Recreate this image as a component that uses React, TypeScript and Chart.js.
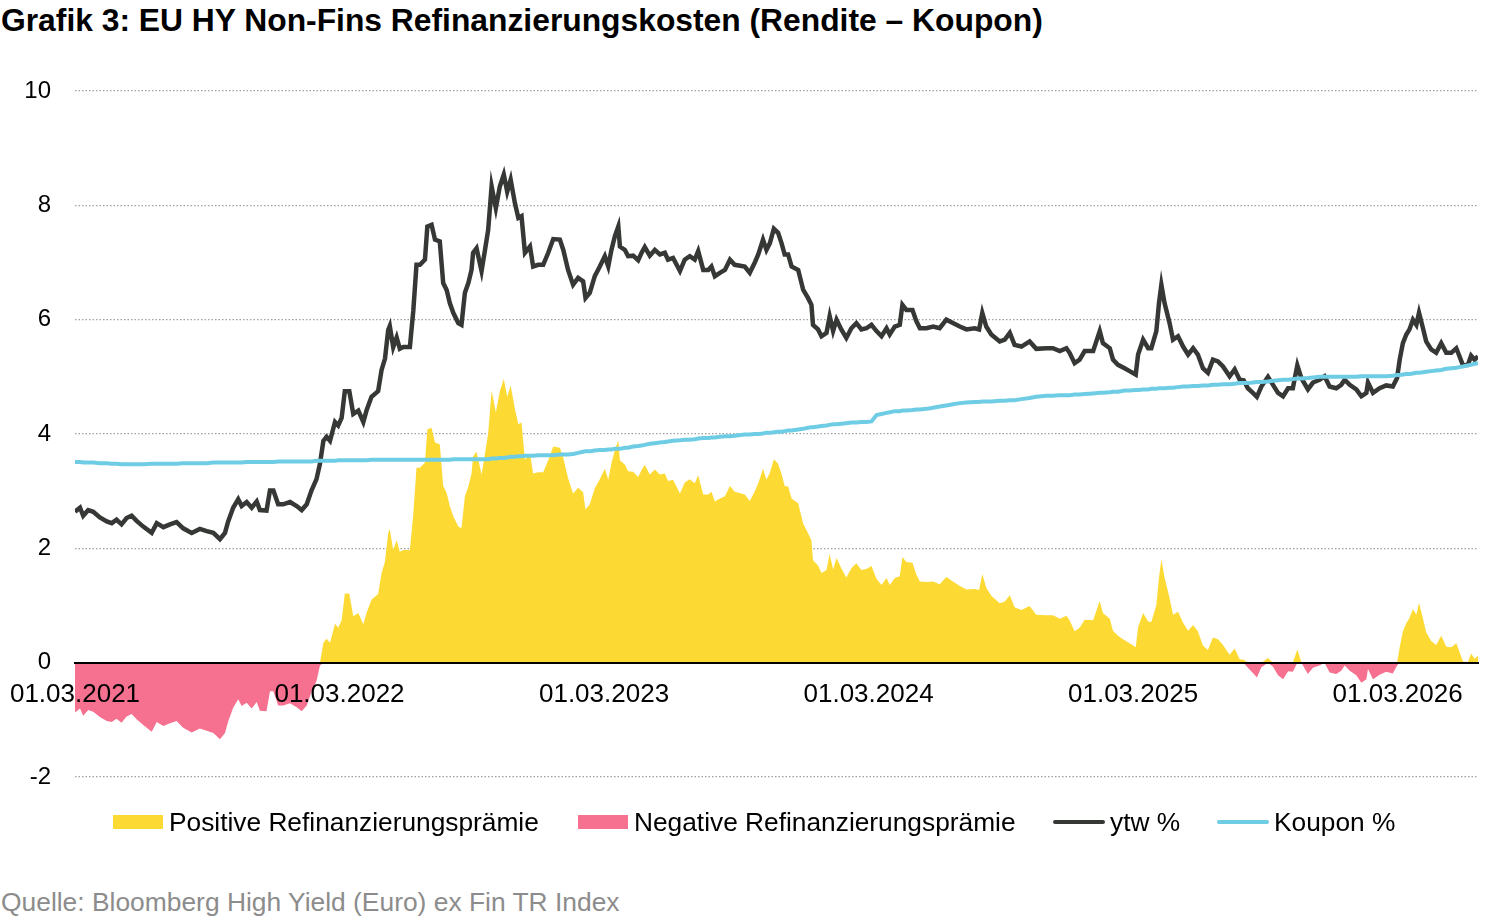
import React, { useEffect, useRef } from 'react';
import Chart from 'chart.js/auto';

// time in years since 01.03.2021
const dates = [
  0.000, 0.019, 0.031, 0.050, 0.069, 0.094, 0.120, 0.139, 0.157, 0.176,
  0.195, 0.214, 0.233, 0.258, 0.290, 0.309, 0.334, 0.359, 0.384, 0.409,
  0.441, 0.472, 0.498, 0.523, 0.548, 0.567, 0.579, 0.598, 0.617, 0.630,
  0.649, 0.668, 0.687, 0.699, 0.724, 0.737, 0.750, 0.768, 0.787, 0.813,
  0.838, 0.857, 0.876, 0.894, 0.913, 0.926, 0.939, 0.951, 0.964, 0.983,
  0.995, 1.008, 1.020, 1.037, 1.052, 1.071, 1.090, 1.102, 1.121, 1.146,
  1.159, 1.172, 1.184, 1.190, 1.203, 1.216, 1.228, 1.241, 1.266, 1.279,
  1.291, 1.304, 1.323, 1.332, 1.348, 1.361, 1.379, 1.392, 1.405, 1.417,
  1.430, 1.449, 1.461, 1.474, 1.487, 1.499, 1.505, 1.518, 1.537, 1.550,
  1.562, 1.575, 1.591, 1.606, 1.621, 1.634, 1.647, 1.663, 1.676, 1.688,
  1.701, 1.720, 1.732, 1.751, 1.770, 1.789, 1.808, 1.833, 1.846, 1.864,
  1.883, 1.902, 1.921, 1.930, 1.946, 1.965, 1.984, 2.003, 2.016, 2.028,
  2.041, 2.054, 2.060, 2.079, 2.091, 2.110, 2.129, 2.142, 2.154, 2.173,
  2.192, 2.211, 2.230, 2.242, 2.261, 2.287, 2.305, 2.324, 2.343, 2.356,
  2.375, 2.394, 2.406, 2.419, 2.438, 2.457, 2.476, 2.494, 2.532, 2.551,
  2.570, 2.583, 2.601, 2.614, 2.627, 2.642, 2.658, 2.671, 2.683, 2.696,
  2.709, 2.734, 2.753, 2.771, 2.784, 2.790, 2.809, 2.822, 2.841, 2.853,
  2.866, 2.879, 2.897, 2.916, 2.935, 2.954, 2.973, 2.992, 3.011, 3.030,
  3.049, 3.068, 3.080, 3.099, 3.118, 3.128, 3.143, 3.166, 3.181, 3.194,
  3.219, 3.244, 3.269, 3.294, 3.319, 3.345, 3.370, 3.401, 3.418, 3.430,
  3.445, 3.464, 3.496, 3.515, 3.534, 3.552, 3.578, 3.609, 3.634, 3.672,
  3.697, 3.723, 3.748, 3.760, 3.779, 3.798, 3.817, 3.849, 3.874, 3.886,
  3.912, 3.924, 3.943, 3.968, 3.987, 4.010, 4.019, 4.038, 4.057, 4.069,
  4.088, 4.098, 4.107, 4.119, 4.138, 4.151, 4.170, 4.189, 4.208, 4.227,
  4.245, 4.264, 4.283, 4.302, 4.321, 4.340, 4.365, 4.384, 4.403, 4.418,
  4.434, 4.453, 4.468, 4.485, 4.510, 4.529, 4.548, 4.567, 4.586, 4.604,
  4.621, 4.636, 4.661, 4.680, 4.705, 4.724, 4.743, 4.768, 4.787, 4.800,
  4.819, 4.844, 4.863, 4.882, 4.888, 4.907, 4.932, 4.957, 4.982, 4.998,
  5.008, 5.020, 5.033, 5.045, 5.058, 5.071, 5.081, 5.096, 5.108, 5.127,
  5.146, 5.165, 5.184, 5.203, 5.222, 5.234, 5.247, 5.266, 5.278, 5.291,
  5.304,
];

const ytw = [
  2.64, 2.71, 2.57, 2.67, 2.64, 2.54, 2.47, 2.44, 2.50, 2.42,
  2.53, 2.57, 2.48, 2.38, 2.27, 2.44, 2.37, 2.42, 2.46, 2.35,
  2.27, 2.34, 2.30, 2.27, 2.16, 2.27, 2.47, 2.71, 2.86, 2.74,
  2.81, 2.71, 2.82, 2.67, 2.66, 3.01, 3.01, 2.77, 2.77, 2.81,
  2.74, 2.67, 2.77, 3.01, 3.21, 3.48, 3.88, 3.95, 3.88, 4.21,
  4.15, 4.28, 4.75, 4.75, 4.35, 4.41, 4.21, 4.41, 4.65, 4.75,
  5.12, 5.32, 5.82, 5.89, 5.52, 5.69, 5.49, 5.52, 5.52, 6.16,
  6.96, 6.96, 7.05, 7.63, 7.66, 7.40, 7.37, 6.64, 6.52, 6.29,
  6.12, 5.94, 5.91, 6.47, 6.64, 6.87, 7.17, 7.25, 6.85, 7.22,
  7.57, 8.33, 7.95, 8.33, 8.54, 8.24, 8.45, 8.04, 7.78, 7.81,
  7.17, 7.28, 6.93, 6.96, 6.96, 7.17, 7.41, 7.40, 7.22, 6.87,
  6.61, 6.73, 6.67, 6.38, 6.47, 6.76, 6.93, 7.11, 6.93, 7.22,
  7.46, 7.63, 7.28, 7.22, 7.11, 7.12, 7.04, 7.17, 7.27, 7.12,
  7.22, 7.14, 7.17, 7.05, 7.08, 6.85, 7.05, 7.11, 7.05, 7.20,
  6.87, 6.87, 6.93, 6.76, 6.82, 6.87, 7.05, 6.96, 6.93, 6.82,
  7.00, 7.14, 7.40, 7.22, 7.34, 7.59, 7.52, 7.34, 7.14, 7.14,
  6.93, 6.87, 6.52, 6.38, 6.26, 5.91, 5.83, 5.71, 5.77, 6.06,
  5.80, 6.00, 5.83, 5.68, 5.85, 5.94, 5.83, 5.85, 5.91, 5.80,
  5.71, 5.85, 5.74, 5.88, 5.91, 6.26, 6.17, 6.17, 5.97, 5.85,
  5.85, 5.88, 5.85, 6.00, 5.94, 5.88, 5.83, 5.85, 5.83, 6.12,
  5.88, 5.74, 5.62, 5.65, 5.77, 5.56, 5.53, 5.62, 5.49, 5.50,
  5.50, 5.45, 5.50, 5.42, 5.24, 5.30, 5.45, 5.45, 5.80, 5.59,
  5.50, 5.30, 5.21, 5.15, 5.10, 5.04, 5.39, 5.65, 5.50, 5.50,
  5.80, 6.29, 6.61, 6.29, 5.94, 5.65, 5.71, 5.53, 5.39, 5.50,
  5.39, 5.15, 5.07, 5.30, 5.27, 5.18, 5.01, 5.13, 4.95, 4.94,
  4.80, 4.72, 4.65, 4.83, 5.00, 4.86, 4.72, 4.66, 4.80, 4.80,
  5.20, 4.98, 4.78, 4.90, 4.95, 5.01, 4.83, 4.80, 4.86, 4.95,
  4.86, 4.78, 4.66, 4.72, 4.90, 4.72, 4.80, 4.85, 4.83, 4.98,
  5.30, 5.59, 5.74, 5.83, 6.00, 5.91, 6.12, 5.85, 5.62, 5.48,
  5.42, 5.59, 5.42, 5.42, 5.50, 5.36, 5.20, 5.21, 5.37, 5.30,
  5.36,
];

const coupon = [
  3.51, 3.51, 3.50, 3.50, 3.50, 3.49, 3.49, 3.48, 3.48, 3.47,
  3.47, 3.47, 3.47, 3.47, 3.48, 3.48, 3.48, 3.48, 3.48, 3.49,
  3.49, 3.49, 3.49, 3.50, 3.50, 3.50, 3.50, 3.50, 3.50, 3.50,
  3.51, 3.51, 3.51, 3.51, 3.51, 3.51, 3.51, 3.52, 3.52, 3.52,
  3.52, 3.52, 3.52, 3.52, 3.53, 3.53, 3.53, 3.53, 3.53, 3.53,
  3.54, 3.54, 3.54, 3.54, 3.54, 3.54, 3.54, 3.54, 3.55, 3.55,
  3.55, 3.55, 3.55, 3.55, 3.55, 3.55, 3.55, 3.55, 3.55, 3.55,
  3.55, 3.55, 3.55, 3.55, 3.55, 3.55, 3.55, 3.55, 3.55, 3.55,
  3.56, 3.56, 3.56, 3.56, 3.56, 3.56, 3.56, 3.56, 3.56, 3.56,
  3.56, 3.57, 3.57, 3.58, 3.58, 3.59, 3.60, 3.60, 3.61, 3.61,
  3.62, 3.62, 3.62, 3.63, 3.63, 3.63, 3.63, 3.64, 3.64, 3.64,
  3.65, 3.67, 3.69, 3.70, 3.70, 3.71, 3.72, 3.72, 3.73, 3.73,
  3.74, 3.74, 3.74, 3.76, 3.76, 3.78, 3.79, 3.80, 3.81, 3.83,
  3.84, 3.85, 3.86, 3.87, 3.88, 3.89, 3.90, 3.90, 3.91, 3.92,
  3.93, 3.93, 3.94, 3.94, 3.95, 3.96, 3.96, 3.97, 3.99, 3.99,
  4.00, 4.00, 4.01, 4.02, 4.02, 4.03, 4.04, 4.04, 4.05, 4.06,
  4.06, 4.08, 4.09, 4.11, 4.12, 4.12, 4.13, 4.14, 4.15, 4.16,
  4.17, 4.17, 4.18, 4.19, 4.20, 4.20, 4.21, 4.21, 4.22, 4.33,
  4.35, 4.37, 4.38, 4.40, 4.40, 4.41, 4.41, 4.42, 4.43, 4.43,
  4.44, 4.46, 4.48, 4.50, 4.52, 4.54, 4.55, 4.56, 4.56, 4.57,
  4.57, 4.57, 4.58, 4.58, 4.59, 4.59, 4.61, 4.63, 4.65, 4.67,
  4.67, 4.68, 4.68, 4.68, 4.69, 4.69, 4.70, 4.71, 4.72, 4.72,
  4.73, 4.74, 4.74, 4.76, 4.76, 4.77, 4.77, 4.78, 4.78, 4.79,
  4.79, 4.80, 4.80, 4.80, 4.81, 4.81, 4.82, 4.83, 4.83, 4.84,
  4.84, 4.85, 4.85, 4.86, 4.86, 4.87, 4.87, 4.88, 4.89, 4.89,
  4.89, 4.90, 4.91, 4.91, 4.92, 4.93, 4.94, 4.95, 4.95, 4.96,
  4.97, 4.97, 4.98, 4.99, 5.00, 5.00, 5.00, 5.00, 5.00, 5.00,
  5.00, 5.00, 5.01, 5.01, 5.01, 5.01, 5.01, 5.01, 5.02, 5.03,
  5.03, 5.04, 5.05, 5.05, 5.06, 5.07, 5.07, 5.08, 5.09, 5.10,
  5.11, 5.12, 5.14, 5.15, 5.16, 5.17, 5.18, 5.20, 5.21, 5.23,
  5.24,
];

const tickYears = [2021, 2022, 2023, 2024, 2025, 2026];
const yTicks = [-2, 0, 2, 4, 6, 8, 10];

const FONT = '"Liberation Sans", Arial, Helvetica, sans-serif';
const YELLOW = '#FDDA33';
const PINK = '#F6708F';
const DARK = '#363836';
const BLUE = '#6ECDE4';

// premium = ytw - coupon, split by sign
const premium = ytw.map((v, i) => +(v - coupon[i]).toFixed(2));

const legendItems = [
  { label: 'Positive Refinanzierungsprämie', color: YELLOW, kind: 'box', left: 113 },
  { label: 'Negative Refinanzierungsprämie', color: PINK, kind: 'box', left: 578 },
  { label: 'ytw %', color: DARK, kind: 'line', left: 1053 },
  { label: 'Koupon %', color: BLUE, kind: 'line', left: 1217 },
];

export default function App() {
  const canvasRef = useRef<HTMLCanvasElement>(null);
  const chartRef = useRef<Chart | null>(null);

  useEffect(() => {
    if (!canvasRef.current) return;
    if (chartRef.current) chartRef.current.destroy();

    const pts = (vals: number[]) => vals.map((v, i) => ({ x: dates[i], y: v }));

    chartRef.current = new Chart(canvasRef.current, {
      type: 'line',
      data: {
        datasets: [
          {
            label: 'Koupon %',
            data: pts(coupon),
            borderColor: BLUE,
            borderWidth: 4,
            pointRadius: 0,
            fill: false,
            order: 0,
          },
          {
            label: 'ytw %',
            data: pts(ytw),
            borderColor: DARK,
            borderWidth: 4.5,
            pointRadius: 0,
            fill: false,
            order: 1,
          },
          {
            label: 'Positive Refinanzierungsprämie',
            data: pts(premium.map((p) => Math.max(p, 0))),
            borderWidth: 0,
            borderColor: 'rgba(0,0,0,0)',
            backgroundColor: YELLOW,
            pointRadius: 0,
            fill: 'origin',
            order: 2,
          },
          {
            label: 'Negative Refinanzierungsprämie',
            data: pts(premium.map((p) => Math.min(p, 0))),
            borderWidth: 0,
            borderColor: 'rgba(0,0,0,0)',
            backgroundColor: PINK,
            pointRadius: 0,
            fill: 'origin',
            order: 3,
          },
        ],
      },
      options: {
        responsive: false,
        animation: false,
        layout: { padding: { top: 31, right: 22, bottom: 43, left: 0 } },
        plugins: {
          legend: { display: false },
          tooltip: { enabled: false },
        },
        scales: {
          x: {
            type: 'linear',
            min: 0,
            max: dates[dates.length - 1],
            position: { y: 0 },
            afterBuildTicks: (scale) => {
              scale.ticks = tickYears.map((_, i) => ({ value: i }));
            },
            afterFit: (scale) => {
              scale.paddingLeft = 0;
              scale.paddingRight = 0;
            },
            grid: { display: false, drawTicks: false },
            border: { display: true, color: '#000', width: 2, z: 1 },
            ticks: {
              z: 1,
              autoSkip: false,
              maxRotation: 0,
              padding: 17,
              color: '#000',
              font: { family: FONT, size: 26 },
              callback: (_v, i) => `01.03.${tickYears[i]}`,
            },
          },
          y: {
            type: 'linear',
            min: -2,
            max: 10,
            afterBuildTicks: (scale) => {
              scale.ticks = yTicks.map((v) => ({ value: v }));
            },
            afterFit: (scale) => {
              scale.width = 75;
              scale.paddingTop = 0;
              scale.paddingBottom = 0;
            },
            grid: { color: '#a0a0a0', lineWidth: 1.2, drawTicks: false },
            border: { display: false, dash: [1.5, 2] },
            ticks: {
              padding: 24,
              color: '#000',
              font: { family: FONT, size: 24 },
              callback: (v) => String(v),
            },
          },
        },
      },
    });

    return () => {
      if (chartRef.current) {
        chartRef.current.destroy();
        chartRef.current = null;
      }
    };
  }, []);

  return (
    <div style={{ position: 'absolute', left: 0, top: 0, width: 1500, height: 917, background: '#fff', fontFamily: FONT, overflow: 'hidden' }}>
      <div style={{ position: 'absolute', left: 1, top: 4, fontSize: 31.8, lineHeight: '32px', fontWeight: 'bold', color: '#000', whiteSpace: 'nowrap' }}>
        Grafik 3: EU HY Non-Fins Refinanzierungskosten (Rendite – Koupon)
      </div>
      <div style={{ position: 'absolute', left: 0, top: 60, width: 1500, height: 760 }}>
        <canvas ref={canvasRef} width={1500} height={760} />
      </div>
      {legendItems.map((it) => (
        <div key={it.label} style={{ position: 'absolute', left: it.left, top: 809, height: 26, display: 'flex', alignItems: 'center', whiteSpace: 'nowrap' }}>
          <span
            style={{
              display: 'inline-block',
              width: it.kind === 'box' ? 50 : 52,
              height: it.kind === 'box' ? 14 : 4,
              borderRadius: it.kind === 'box' ? 0 : 2,
              background: it.color,
              marginRight: it.kind === 'box' ? 6 : 5,
            }}
          />
          <span style={{ fontSize: 26.3, lineHeight: '26px', color: '#000' }}>{it.label}</span>
        </div>
      ))}
      <div style={{ position: 'absolute', left: 1, top: 889, fontSize: 26.4, lineHeight: '26px', color: '#8c8c8c', whiteSpace: 'nowrap' }}>
        Quelle: Bloomberg High Yield (Euro) ex Fin TR Index
      </div>
    </div>
  );
}
